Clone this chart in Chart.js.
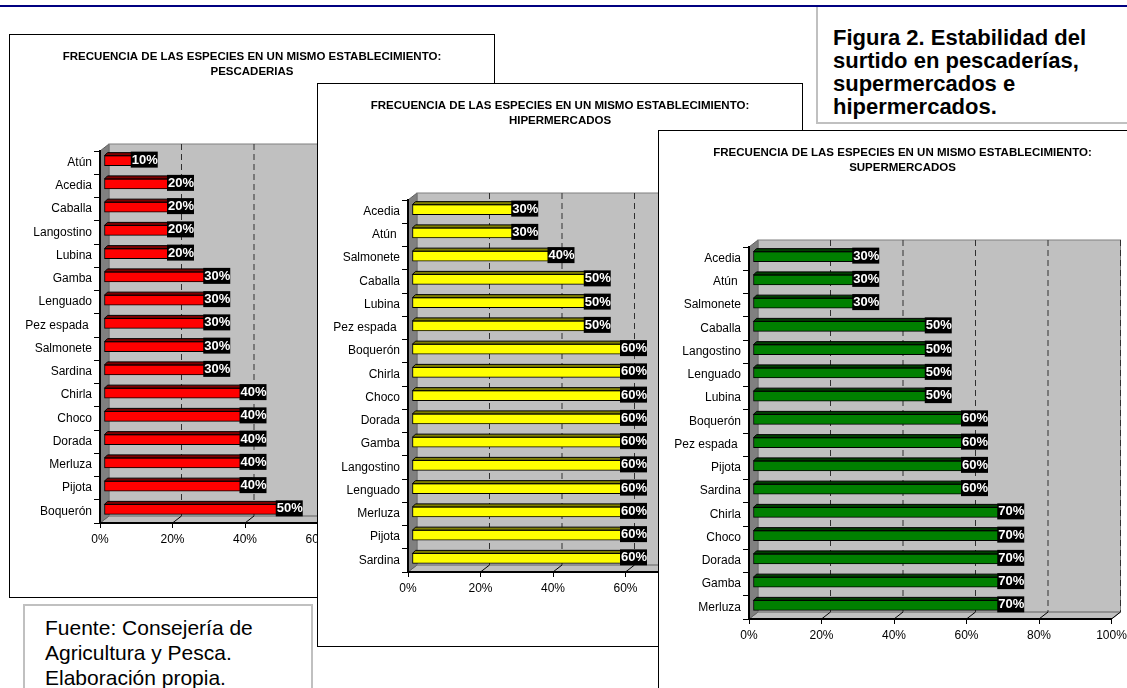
<!DOCTYPE html>
<html>
<head>
<meta charset="utf-8">
<script src="https://cdn.jsdelivr.net/npm/chart.js@4.4.1/dist/chart.umd.min.js"></script>
<style>
  html, body { margin: 0; padding: 0; }
  body {
    width: 1127px; height: 688px; overflow: hidden; position: relative;
    background: #fff; font-family: "Liberation Sans", Arial, sans-serif;
  }
  .rule { position: absolute; left: 0; top: 5px; width: 1127px; height: 2px; background: #000080; z-index: 5; }
  .panel { position: absolute; box-sizing: border-box; border: 1px solid #000; background: #fff; }
  .panel canvas { display: block; }
  #p1 { left: 9px; top: 34px; width: 486px; height: 564px; }
  #p2 { left: 317px; top: 83px; width: 486px; height: 564px; }
  #p3 { left: 658px; top: 130px; width: 489px; height: 564px; }
  .figbox { position: absolute; left: 816px; top: 5px; width: 330px; height: 119px; box-sizing: border-box; border: 2px solid #c0c0c0; background: #fff; }
  .figtext { position: absolute; left: 833px; top: 26px; font-weight: bold; font-size: 22px; line-height: 23px; color: #000; white-space: nowrap; }
  .srcbox { position: absolute; left: 23px; top: 604px; width: 290px; height: 110px; box-sizing: border-box; border: 2px solid #c0c0c0; background: #fff; }
  .srctext { position: absolute; left: 45px; top: 615px; font-size: 21px; line-height: 25px; color: #000; white-space: nowrap; }
</style>
</head>
<body>
<div class="figbox"></div>
<div class="figtext">Figura 2. Estabilidad del<br>surtido en pescaderías,<br>supermercados e<br>hipermercados.</div>
<div class="rule"></div>
<div class="panel" id="p1"><canvas id="c1" width="484" height="562"></canvas></div>
<div class="panel" id="p2"><canvas id="c2" width="484" height="562"></canvas></div>
<div class="panel" id="p3"><canvas id="c3" width="487" height="562"></canvas></div>
<div class="srcbox"></div>
<div class="srctext">Fuente: Consejería de<br>Agricultura y Pesca.<br>Elaboración propia.</div>

<script>
// Datos de los tres gráficos
const titleLine = 'FRECUENCIA DE LAS ESPECIES EN UN MISMO ESTABLECIMIENTO:';

const pescaderiasLabels = ['Atún', 'Acedia', 'Caballa', 'Langostino', 'Lubina', 'Gamba', 'Lenguado', 'Pez espada ',
    'Salmonete', 'Sardina', 'Chirla', 'Choco', 'Dorada', 'Merluza', 'Pijota', 'Boquerón'];
const pescaderiasValues = [10, 20, 20, 20, 20, 30, 30, 30, 30, 30, 40, 40, 40, 40, 40, 50];

const hiperLabels = ['Acedia', 'Atún ', 'Salmonete', 'Caballa', 'Lubina', 'Pez espada ', 'Boquerón', 'Chirla',
    'Choco', 'Dorada', 'Gamba', 'Langostino', 'Lenguado', 'Merluza', 'Pijota', 'Sardina'];
const hiperValues = [30, 30, 40, 50, 50, 50, 60, 60, 60, 60, 60, 60, 60, 60, 60, 60];

const superLabels = ['Acedia', 'Atún ', 'Salmonete', 'Caballa', 'Langostino', 'Lenguado', 'Lubina', 'Boquerón',
    'Pez espada ', 'Pijota', 'Sardina', 'Chirla', 'Choco', 'Dorada', 'Gamba', 'Merluza'];
const superValues = [30, 30, 30, 50, 50, 50, 50, 60, 60, 60, 60, 70, 70, 70, 70, 70];

const FONT = '"Liberation Sans", Arial, sans-serif';
Chart.defaults.font.family = FONT;

// profundidad del efecto 3D
const depth = { dx: 9, dy: 7, bx: 4, by: 2, face: 3 };

const walls3d = {
    id: 'walls3d',
    beforeDraw(chart) {
        const { ctx, chartArea: a } = chart;
        const x = chart.scales.x;
        const { dx, dy } = depth;
        ctx.save();
        // pared del fondo
        ctx.fillStyle = '#c0c0c0';
        ctx.fillRect(a.left + dx, a.top - dy, a.right - a.left, a.bottom - a.top);
        // suelo
        ctx.beginPath();
        ctx.moveTo(a.left, a.bottom);
        ctx.lineTo(a.left + dx, a.bottom - dy);
        ctx.lineTo(a.right + dx, a.bottom - dy);
        ctx.lineTo(a.right, a.bottom);
        ctx.closePath();
        ctx.fillStyle = '#c0c0c0';
        ctx.fill();
        ctx.strokeStyle = '#808080';
        ctx.lineWidth = 1;
        ctx.stroke();
        // pared lateral
        ctx.beginPath();
        ctx.moveTo(a.left, a.top);
        ctx.lineTo(a.left + dx, a.top - dy);
        ctx.lineTo(a.left + dx, a.bottom - dy);
        ctx.lineTo(a.left, a.bottom);
        ctx.closePath();
        ctx.fillStyle = '#808080';
        ctx.fill();
        ctx.strokeStyle = '#606060';
        ctx.stroke();
        ctx.strokeStyle = '#808080';
        ctx.strokeRect(a.left + dx, a.top - dy, a.right - a.left, a.bottom - a.top);
        // líneas de división
        x.ticks.forEach(t => {
            if (t.value === 0) return;
            const px = x.getPixelForValue(t.value);
            ctx.strokeStyle = '#303030';
            ctx.setLineDash([6, 4]);
            ctx.beginPath();
            ctx.moveTo(px + dx, a.top - dy);
            ctx.lineTo(px + dx, a.bottom - dy);
            ctx.stroke();
            ctx.setLineDash([]);
            ctx.strokeStyle = '#000';
            ctx.beginPath();
            ctx.moveTo(px, a.bottom);
            ctx.lineTo(px + dx, a.bottom - dy);
            ctx.stroke();
        });
        ctx.restore();
    },
    beforeDatasetDraw(chart) {
        chart.ctx.save();
        chart.ctx.translate(depth.bx, -depth.by);
    },
    afterDatasetDraw(chart) {
        chart.ctx.restore();
    },
    afterDatasetsDraw(chart, args, opts) {
        const { ctx } = chart;
        const meta = chart.getDatasetMeta(0);
        const values = chart.data.datasets[0].data;
        const { bx, by, face } = depth;
        ctx.save();
        meta.data.forEach((bar, i) => {
            const x0 = bar.base + bx;
            const x1 = bar.x + bx;
            const yTop = bar.y - by - bar.height / 2;
            const yBot = bar.y - by + bar.height / 2;
            ctx.lineWidth = 1;
            ctx.strokeStyle = '#000';
            ctx.fillStyle = opts.side;
            // cara superior
            ctx.beginPath();
            ctx.moveTo(x0, yTop);
            ctx.lineTo(x0 + face, yTop - face);
            ctx.lineTo(x1 + face, yTop - face);
            ctx.lineTo(x1, yTop);
            ctx.closePath();
            ctx.fill();
            ctx.stroke();
            // cara final
            ctx.beginPath();
            ctx.moveTo(x1, yTop);
            ctx.lineTo(x1 + face, yTop - face);
            ctx.lineTo(x1 + face, yBot - face);
            ctx.lineTo(x1, yBot);
            ctx.closePath();
            ctx.fill();
            ctx.stroke();
            // etiqueta
            const bw = 27, bh = 16;
            const lx = x1 - 9.5;
            const ly = bar.y - 3 - bh / 2;
            ctx.fillStyle = '#000';
            ctx.fillRect(lx, ly, bw, bh);
            ctx.fillStyle = '#fff';
            ctx.font = 'bold 13px ' + FONT;
            ctx.textAlign = 'center';
            ctx.textBaseline = 'middle';
            ctx.fillText(values[i] + '%', lx + bw / 2 + 0.5, ly + bh / 2 + 0.5);
        });
        ctx.restore();
    },
};

function makeChart(id, subtitle, labels, values, front, side, maxX, gap) {
    return new Chart(document.getElementById(id), {
        type: 'bar',
        data: {
            labels,
            datasets: [{
                data: values,
                backgroundColor: front,
                borderColor: '#000',
                borderWidth: 1,
                borderSkipped: false,
                barThickness: 10,
                clip: false,
            }],
        },
        options: {
            indexAxis: 'y',
            responsive: false,
            animation: false,
            devicePixelRatio: 1,
            events: [],
            layout: { padding: { top: 0, left: 0, right: 0, bottom: 44 } },
            plugins: {
                legend: { display: false },
                tooltip: { enabled: false },
                title: {
                    display: true,
                    text: [titleLine, subtitle],
                    color: '#000',
                    font: { size: 11.5, weight: 'bold', lineHeight: '15px' },
                    padding: { top: 14, bottom: 72 },
                },
                walls3d: { side },
            },
            scales: {
                x: {
                    min: 0,
                    max: maxX,
                    ticks: {
                        stepSize: 20,
                        color: '#000',
                        font: { size: 12 },
                        padding: 4,
                        callback: v => v + '%',
                    },
                    grid: { drawOnChartArea: false, tickLength: 5, color: '#000' },
                    border: { color: '#000', width: 2 },
                    afterFit(s) { s.height = 30; },
                },
                y: {
                    ticks: { color: '#000', font: { size: 12 }, padding: 2 },
                    grid: { drawOnChartArea: false, tickLength: 6, color: '#000' },
                    border: { color: '#000', width: 2 },
                    afterFit(s) { s.width = 90; },
                },
                gap: {
                    type: 'category',
                    position: 'right',
                    grid: { display: false },
                    border: { display: false },
                    ticks: { display: false },
                    afterFit(s) { s.width = gap; },
                },
            },
        },
        plugins: [walls3d],
    });
}

makeChart('c1', 'PESCADERIAS', pescaderiasLabels, pescaderiasValues, '#ff0000', '#800000', 60, 176.5);
makeChart('c2', 'HIPERMERCADOS', hiperLabels, hiperValues, '#ffff00', '#808000', 80, 104);
makeChart('c3', 'SUPERMERCADOS', superLabels, superValues, '#008000', '#004000', 100, 34.5);
</script>
</body>
</html>
